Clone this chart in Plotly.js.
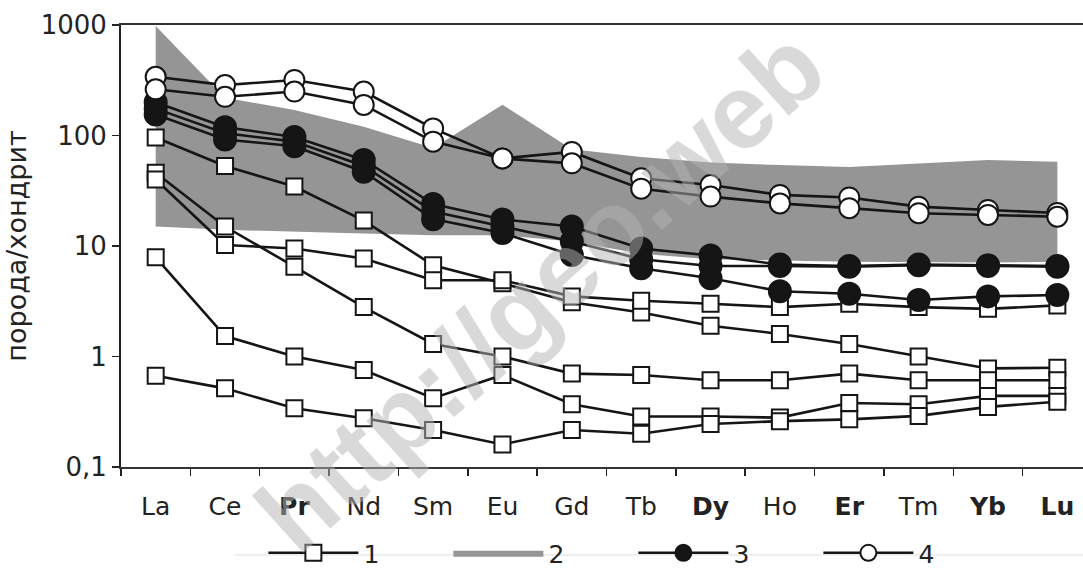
<!DOCTYPE html>
<html>
<head>
<meta charset="utf-8">
<script src="https://cdn.plot.ly/plotly-3.0.1.min.js"></script>
<style>html,body{margin:0;padding:0;background:#fff;}#chart{width:1083px;height:581px;}</style>
</head>
<body>
<div id="chart"></div>
<script>
// REE categories
const categories = ['La','Ce','Pr','Nd','Sm','Eu','Gd','Tb','Dy','Ho','Er','Tm','Yb','Lu'];
const tickLabels = ['La','Ce','<b>Pr</b>','Nd','Sm','Eu','Gd','Tb','<b>Dy</b>','Ho','<b>Er</b>','Tm','<b>Yb</b>','<b>Lu</b>'];

// Group 1: open squares
const sq1 = [96, 53, 34.5, 17, 6.7, 4.6, 3.1, 2.5, 1.9, 1.6, 1.3, 1.0, 0.78, 0.79];
const sq2 = [46, 15, 6.5, 2.8, 1.3, 1.0, 0.70, 0.68, 0.61, 0.61, 0.70, 0.61, 0.61, 0.61];
const sq3 = [40, 10.2, 9.5, 7.7, 4.9, 4.9, 3.5, 3.2, 3.0, 2.8, 3.0, 2.8, 2.7, 2.9];
const sq4 = [7.9, 1.53, 1.0, 0.755, 0.42, 0.68, 0.37, 0.286, 0.286, 0.28, 0.38, 0.37, 0.44, 0.44];
const sq5 = [0.67, 0.515, 0.34, 0.276, 0.216, 0.16, 0.216, 0.20, 0.245, 0.26, 0.27, 0.29, 0.35, 0.39];

// Group 2: grey field (upper and lower bounds)
const bandUpper = [980, 220, 170, 120, 77, 190, 75, 64, 57, 54, 52, 56, 60, 58];
const bandLower = [15, 14, 13.5, 13, 12.5, 12.5, 11, 8.5, 7.6, 7.4, 7.2, 7.1, 7.1, 7.2];

// Group 3: filled circles
const f1 = [200, 119, 97, 60, 24, 17.4, 15, 9.5, 8.2, 6.8, 6.6, 6.8, 6.7, 6.6];
const f2 = [175, 105, 88, 53, 20.5, 15, 11, 7.6, 6.6, 6.6, 6.5, 6.7, 6.6, 6.5];
const f3 = [155, 92, 80, 47, 17.5, 13.1, 8.3, 6.3, 5.1, 3.9, 3.7, 3.25, 3.5, 3.6];

// Group 4: open circles
const o1 = [340, 286, 318, 250, 116, 62, 71, 41, 35.6, 29, 27.5, 22.7, 21.2, 19.9];
const o2 = [262, 224, 250, 189, 88, 62, 56, 33, 28, 24.3, 22, 19.8, 19.1, 18.4];

const legendNames = ['1','2','3','4'];
const yTickVals = [0.1, 1, 10, 100, 1000];
const yTickText = ['0,1', '1', '10', '100', '1000'];

const LINE = '#151515';
const GREY = '#959595';
const FONT = 'DejaVu Sans, Liberation Sans, Arial, sans-serif';

function series(y, symbol, fillColor, size, name, show, rank) {
  return {
    type: 'scatter', mode: 'lines+markers',
    x: categories, y: y,
    name: name, legendgroup: name, showlegend: show, legendrank: rank,
    line: {color: LINE, width: 2.6},
    marker: {symbol: symbol, size: size, color: fillColor, line: {color: LINE, width: 2}},
    hoverinfo: 'x+y'
  };
}

const traces = [];
traces.push({
  type: 'scatter', mode: 'lines',
  x: categories.concat(categories.slice().reverse()),
  y: bandUpper.concat(bandLower.slice().reverse()),
  fill: 'toself', fillcolor: GREY,
  line: {color: GREY, width: 0},
  name: legendNames[1], legendgroup: 'g2', showlegend: true, legendrank: 2,
  hoverinfo: 'skip'
});
[sq1, sq2, sq3, sq4, sq5].forEach((s, i) => traces.push(series(s, 'square', '#ffffff', 16, legendNames[0], i === 0, 1)));
[f1, f2, f3].forEach((s, i) => traces.push(series(s, 'circle', LINE, 22, legendNames[2], i === 0, 3)));
[o1, o2].forEach((s, i) => traces.push(series(s, 'circle', '#ffffff', 20, legendNames[3], i === 0, 4)));

const layout = {
  width: 1083, height: 581,
  margin: {l: 121, r: 0, t: 25, b: 114, autoexpand: false},
  paper_bgcolor: '#ffffff', plot_bgcolor: '#ffffff',
  font: {family: FONT, size: 25, color: '#222'},
  showlegend: true,
  legend: {
    orientation: 'h', x: 0.148, xanchor: 'left', y: -0.1946, yanchor: 'middle',
    font: {family: FONT, size: 25, color: '#222'},
    itemwidth: 90, entrywidth: 80, entrywidthmode: 'pixels',
    bgcolor: 'rgba(0,0,0,0)', traceorder: 'normal', itemclick: false
  },
  xaxis: {
    type: 'category', categoryorder: 'array', categoryarray: categories,
    range: [-0.5, 13.37],
    tickmode: 'array', tickvals: categories, ticktext: tickLabels,
    tickson: 'boundaries', ticks: 'outside', ticklen: 7, tickwidth: 1.5, tickcolor: '#222',
    ticklabelstandoff: 16,
    showline: true, linecolor: '#333', linewidth: 2, mirror: true,
    showgrid: false, zeroline: false,
    tickfont: {family: FONT, size: 25, color: '#222'}
  },
  yaxis: {
    type: 'log', range: [-1, 3],
    tickmode: 'array', tickvals: yTickVals, ticktext: yTickText,
    ticks: 'outside', ticklen: 7, tickwidth: 1.5, tickcolor: '#222',
    showline: true, linecolor: '#222', linewidth: 2,
    showgrid: false, zeroline: false,
    tickfont: {family: FONT, size: 26, color: '#222'},
    title: {text: 'порода/хондрит', font: {family: FONT, size: 27, color: '#222'}, standoff: 6}
  },
  shapes: [{
    type: 'line', xref: 'paper', yref: 'paper', x0: 0.1185, x1: 1, y0: -0.199, y1: -0.199,
    line: {color: '#dedede', width: 1}, layer: 'below'
  }],
  annotations: [{
    text: '<b>http://geo.web</b>', xref: 'paper', yref: 'paper', x: 0.4356, y: 0.4, xanchor: 'center', yanchor: 'middle',
    showarrow: false, textangle: -42,
    font: {family: 'Liberation Sans, Arial, sans-serif', size: 106, color: 'rgba(180,180,180,0.5)'}
  }]
};

Plotly.newPlot('chart', traces, layout, {staticPlot: true, displayModeBar: false});
</script>
</body>
</html>
